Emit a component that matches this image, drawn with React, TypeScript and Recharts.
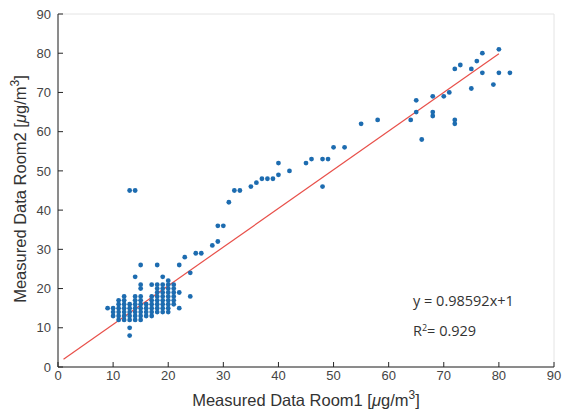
import React from "react";
import {
  ScatterChart,
  Scatter,
  XAxis,
  YAxis,
  CartesianGrid,
} from "recharts";

const room1 = [
  9, 10, 10, 10, 11, 11, 11, 11, 11, 11, 12, 12, 12, 12, 12, 12, 12,
  13, 13, 13, 13, 13, 13, 13, 14, 14, 14, 14, 14, 14, 14, 14,
  15, 15, 15, 15, 15, 15, 15, 15, 15, 15, 16, 16, 16, 16,
  17, 17, 17, 17, 17, 17, 17, 18, 18, 18, 18, 18, 18, 18, 18, 18,
  19, 19, 19, 19, 19, 19, 19, 19, 19, 20, 20, 20, 20, 20, 20, 20, 20, 20,
  21, 21, 21, 21, 21, 21, 22, 22, 22, 23, 24, 24, 25, 26, 13, 14,
  28, 29, 29, 30, 31, 32, 33, 35, 36, 37, 38, 39, 40, 40, 42, 45, 46, 48, 49, 48,
  50, 52, 55, 58, 64, 65, 65, 66, 68, 68, 68, 70, 71, 72, 72, 72, 73, 75, 75,
  76, 77, 77, 79, 80, 80, 82,
];
const room2 = [
  15, 13, 14, 15, 12, 13, 14, 15, 16, 17, 12, 13, 14, 15, 16, 17, 18,
  8, 10, 12, 13, 14, 15, 16, 12, 13, 14, 15, 16, 17, 18, 23,
  12, 13, 14, 15, 16, 17, 18, 20, 21, 26, 13, 14, 15, 16,
  13, 14, 15, 16, 17, 18, 21, 14, 15, 16, 17, 18, 19, 20, 21, 26,
  14, 15, 16, 17, 18, 19, 20, 21, 23, 14, 15, 16, 17, 18, 19, 20, 21, 22,
  16, 17, 18, 19, 20, 21, 15, 19, 26, 28, 18, 24, 29, 29, 45, 45,
  31, 32, 36, 36, 42, 45, 45, 46, 47, 48, 48, 48, 49, 52, 50, 52, 53, 53, 53, 46,
  56, 56, 62, 63, 63, 65, 68, 58, 69, 65, 64, 69, 70, 63, 62, 76, 77, 76, 71,
  78, 80, 75, 72, 81, 75, 75,
];

const fitSlope = 0.98592;
const fitIntercept = 1;
const fitRange = [1, 80];
const axisTicks = [0, 10, 20, 30, 40, 50, 60, 70, 80, 90];

const points = room1.map((x, i) => ({ x, y: room2[i] }));
const fitLine = fitRange.map((x) => ({ x, y: fitSlope * x + fitIntercept }));

const Dot = (props: any) => (
  <circle cx={props.cx} cy={props.cy} r={2.4} fill="#1d6cb0" />
);

const tickStyle = { fontFamily: "Liberation Sans, Arial", fontSize: 13, fill: "#444" };
const axisColor = "#262626";

export default function App() {
  return (
    <div style={{ position: "absolute", left: 0, top: 0, width: 567, height: 417, background: "#fff" }}>
      <ScatterChart
        width={567}
        height={417}
        margin={{ top: 14, right: 13, bottom: 0, left: 0 }}
      >
        <CartesianGrid stroke="#e4e4e4" />
        <XAxis
          xAxisId="b"
          type="number"
          dataKey="x"
          domain={[0, 90]}
          ticks={axisTicks}
          height={50}
          stroke={axisColor}
          tickSize={-5}
          tickMargin={9}
          tick={tickStyle}
        />
        <XAxis
          xAxisId="t"
          orientation="top"
          type="number"
          dataKey="x"
          domain={[0, 90]}
          ticks={axisTicks}
          height={0}
          stroke={axisColor}
          tickSize={-5}
          tick={false}
        />
        <YAxis
          yAxisId="l"
          type="number"
          dataKey="y"
          domain={[0, 90]}
          ticks={axisTicks}
          width={58}
          stroke={axisColor}
          tickSize={-5}
          tickMargin={12}
          tick={tickStyle}
        />
        <YAxis
          yAxisId="r"
          orientation="right"
          type="number"
          dataKey="y"
          domain={[0, 90]}
          ticks={axisTicks}
          width={0}
          stroke={axisColor}
          tickSize={-5}
          tick={false}
        />
        <Scatter
          xAxisId="t"
          yAxisId="r"
          data={fitLine}
          line={{ stroke: "#e8504a", strokeWidth: 1.2 }}
          shape={() => <g />}
          isAnimationActive={false}
        />
        <Scatter
          xAxisId="b"
          yAxisId="l"
          data={points}
          shape={Dot}
          isAnimationActive={false}
        />
      </ScatterChart>
      <svg
        width={567}
        height={417}
        style={{ position: "absolute", left: 0, top: 0, pointerEvents: "none" }}
      >
        <rect x={381} y={277} width={158} height={70} fill="#fff" />
        <g fontFamily="Open Sans, sans-serif" fontSize={14.5} fill="#333">
          <text x={413} y={306}>y = 0.98592x+1</text>
          <text x={413} y={336}>
            R<tspan dy={-5} fontSize={9}>2</tspan>
            <tspan dy={5}>= 0.929</tspan>
          </text>
        </g>
        <g fontFamily="Liberation Sans, Arial" fontSize={16.5} fill="#333">
          <text x={306} y={406} textAnchor="middle">
            Measured Data Room1 [<tspan fontStyle="italic">μ</tspan>g/m
            <tspan dy={-7} fontSize={12}>3</tspan>
            <tspan dy={7}>]</tspan>
          </text>
          <text x={26} y={189} textAnchor="middle" transform="rotate(-90 26 189)">
            Measured Data Room2 [<tspan fontStyle="italic">μ</tspan>g/m
            <tspan dy={-7} fontSize={12}>3</tspan>
            <tspan dy={7}>]</tspan>
          </text>
        </g>
      </svg>
    </div>
  );
}
